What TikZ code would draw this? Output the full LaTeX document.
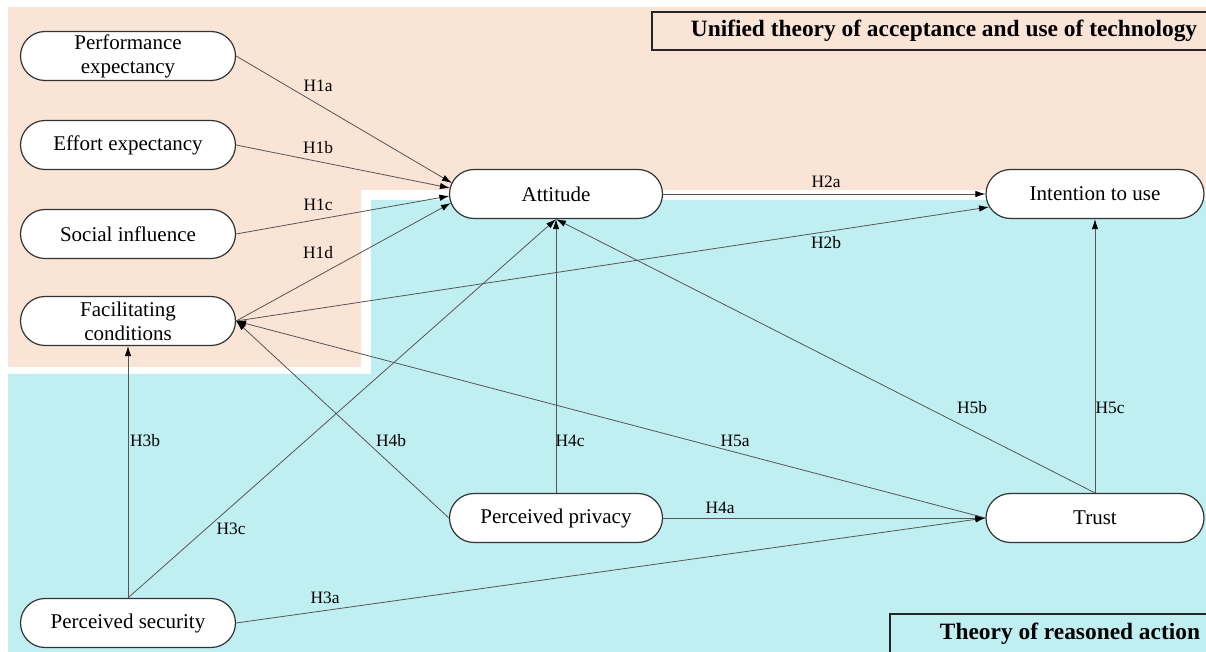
\documentclass[tikz,border=0pt]{standalone}
\usepackage{fontspec}
\setmainfont{Liberation Serif}
\usetikzlibrary{shapes.misc,arrows.meta,calc}
\definecolor{peach}{RGB}{250,228,214}
\definecolor{cyanbg}{RGB}{192,239,242}
\definecolor{edgegray}{RGB}{85,85,85}
\tikzset{
  construct/.style={rounded rectangle, draw=black!80, line width=0.6pt, fill=white,
    minimum width=108.5pt, minimum height=24.5pt, inner sep=1pt, align=center,
    font=\fontsize{10.5}{12}\selectfont},
  conn/.style={draw=edgegray, line width=0.4pt, -{Latex[length=5pt,width=3.2pt,black]}},
  lbl/.style={font=\fontsize{8.7}{10}\selectfont, inner sep=0pt},
  titlebox/.style={draw=black!85, line width=0.8pt},
  titletext/.style={font=\fontsize{11.7}{13}\selectfont\bfseries}
}
\begin{document}
\begin{tikzpicture}[x=0.5pt,y=-0.5pt]
\clip (0,0) rectangle (1206,652);
\fill[white] (0,0) rectangle (1206,652);
% backgrounds
\fill[peach] (8,7) -- (1206,7) -- (1206,190) -- (361,190) -- (361,367) -- (8,367) -- cycle;
\fill[cyanbg] (371,200) -- (1206,200) -- (1206,652) -- (8,652) -- (8,374) -- (371,374) -- cycle;
% titles
\draw[titlebox] (652,12) rectangle (1215,50);
\node[titletext] (t1) at (944,31) {Unified theory of acceptance and use of technology};
\draw[titlebox] (890,614) rectangle (1215,660);
\node[titletext] (t2) at (1070,634) {Theory of reasoned action};
% nodes
\node[construct, minimum width=109.5pt] (PE) at (128,56) {Performance\\expectancy};
\node[construct, minimum width=109.5pt] (EE) at (128,145) {Effort expectancy};
\node[construct, minimum width=109.5pt] (SI) at (128,234) {Social influence};
\node[construct, minimum width=109.5pt] (FC) at (128,321) {Facilitating\\conditions};
\node[construct, minimum width=109.5pt] (PS) at (128,623) {Perceived security};
\node[construct] (AT) at (556,194) {Attitude};
\node[construct, minimum width=111pt] (IU) at (1095,194) {Intention to use};
\node[construct] (PP) at (556,518) {Perceived privacy};
\node[construct, minimum width=111pt] (TR) at (1095,518) {Trust};
% arrow end points on Attitude's left end
\coordinate (ATa) at ($(AT.west)+(3,-11)$);
\coordinate (ATb) at ($(AT.west)+(1,-6)$);
\coordinate (ATc) at ($(AT.west)+(0.5,2)$);
\coordinate (ATd) at ($(AT.west)+(2,9)$);
% connectors
\draw[conn] (PE.east) -- (ATa);
\draw[conn] (EE.east) -- (ATb);
\draw[conn] (SI.east) -- (ATc);
\draw[conn] (FC.east) -- (ATd);
\draw[conn] (AT.east) -- (IU.west);
\draw[conn] (FC.east) -- (IU.187);
\draw[conn] (PS.north) -- (FC.south);
\draw[conn] (PS.north) -- (AT.south);
\draw[conn] (PS.east) -- (TR.west);
\draw[conn] (PP.west) -- (FC.east);
\draw[conn] (PP.north) -- (AT.south);
\draw[conn] (PP.east) -- (TR.west);
\draw[conn] (TR.west) -- (FC.east);
\draw[conn] (TR.north) -- (AT.south);
\draw[conn] (TR.north) -- (IU.south);
% labels
\node[lbl] (lH1a) at (318,86) {H1a};
\node[lbl] (lH1b) at (318,148) {H1b};
\node[lbl] (lH1c) at (318,205) {H1c};
\node[lbl] (lH1d) at (318,253) {H1d};
\node[lbl] (lH2a) at (826,182) {H2a};
\node[lbl] (lH2b) at (826,243) {H2b};
\node[lbl] (lH3b) at (145,441) {H3b};
\node[lbl] (lH3c) at (231,529) {H3c};
\node[lbl] (lH3a) at (325,598) {H3a};
\node[lbl] (lH4b) at (391,441) {H4b};
\node[lbl] (lH4c) at (570,441) {H4c};
\node[lbl] (lH4a) at (720,508) {H4a};
\node[lbl] (lH5a) at (735,441) {H5a};
\node[lbl] (lH5b) at (972,408) {H5b};
\node[lbl] (lH5c) at (1110,408) {H5c};
\end{tikzpicture}
\end{document}
